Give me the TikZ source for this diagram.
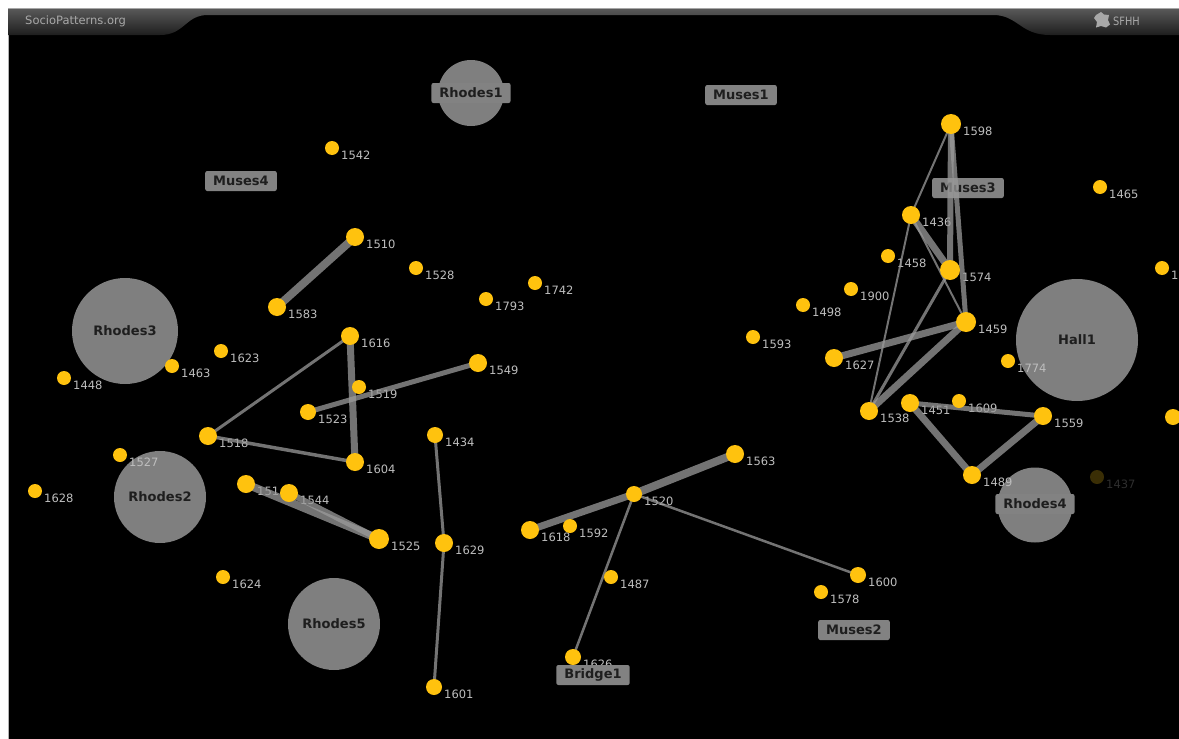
\documentclass[tikz,border=0pt]{standalone}
\usepackage{fontspec}
\setmainfont{DejaVu Sans}
\definecolor{dotc}{HTML}{FFC20E}
\definecolor{dimdot}{HTML}{3A2E05}
\definecolor{dimtxt}{HTML}{2E2E2E}
\definecolor{locc}{HTML}{7F7F7F}
\definecolor{boxc}{HTML}{828282}
\definecolor{loctxt}{HTML}{1E1E1E}
\definecolor{numc}{HTML}{BEBEBE}
\definecolor{edgec}{HTML}{9A9A9A}
\definecolor{hdtop}{HTML}{5A5A5A}
\definecolor{hdbot}{HTML}{1E1E1E}
\definecolor{hdtxt}{HTML}{A8A8A8}
\pgfdeclarelayer{circ}
\pgfdeclarelayer{lab}
\pgfdeclarelayer{box}
\pgfdeclarelayer{edge}
\pgfsetlayers{circ,lab,box,edge,main}
\begin{document}
\begin{tikzpicture}[x=1pt,y=-1pt,
  dot/.style={circle,fill=dotc,draw=none,inner sep=0pt},
  num/.style={anchor=west,inner sep=0pt,text=numc,font=\fontsize{11.5}{12}\selectfont},
  loc/.style={circle,fill=locc,draw=none,inner sep=0pt,text=loctxt,font=\bfseries\fontsize{13}{14}\selectfont},
  tag/.style={rectangle,rounded corners=2pt,fill=boxc,draw=none,inner xsep=8pt,inner ysep=0pt,minimum height=20pt,text=loctxt,font=\bfseries\fontsize{13}{14}\selectfont},
  link/.style={draw=edgec,draw opacity=0.75,line cap=butt}]
\path[use as bounding box] (0,0) rectangle (1179,739);
\begin{pgfonlayer}{circ}
\fill[white] (0,0) rectangle (1179,739);
\fill[black] (8,8) rectangle (1179,739);
\draw[gray!60,line width=0.8pt] (8,8) -- (8,739);
\shade[top color=hdtop,bottom color=hdbot]
  (8,8) -- (1179,8) -- (1179,35) -- (1050,35)
  .. controls (1020,35) and (1018,15) .. (993,15) -- (208,15)
  .. controls (185,15) and (185,35) .. (160,35) -- (8,35) -- cycle;
\draw[gray!70,line width=0.8pt] (8,8.4) -- (1179,8.4);
\node[anchor=west,inner sep=0pt,text=hdtxt,font=\fontsize{11.5}{13}\selectfont] (brand) at (25,21) {SocioPatterns.org};
\node[anchor=west,inner sep=0pt,text=hdtxt,font=\fontsize{11.5}{13}\selectfont,xscale=0.85] (conf) at (1113,21) {SFHH};
\fill[hdtxt] (1096,15) -- (1101,12) -- (1104,14.5) -- (1109,15) -- (1108,20) -- (1110,24.5)
  -- (1106,27.5) -- (1101,26) -- (1096,27.5) -- (1097,22) -- (1094,18) -- cycle;
% location circles
\node[loc,minimum size=66pt] (Rhodes1c) at (471,93) {};
\node[loc,minimum size=106pt] (Rhodes3) at (125,331) {Rhodes3};
\node[loc,minimum size=92pt] (Rhodes2) at (160,497) {Rhodes2};
\node[loc,minimum size=92pt] (Rhodes5) at (334,624) {Rhodes5};
\node[loc,minimum size=122pt] (Hall1) at (1077,340) {Hall1};
\node[loc,minimum size=75pt] (Rhodes4c) at (1035,505) {};
\end{pgfonlayer}
\begin{pgfonlayer}{box}
\node[tag] (Rhodes1) at (471,93) {Rhodes1};
\node[tag] (Rhodes4) at (1035,504) {Rhodes4};
\node[tag] (Muses1) at (741,95) {Muses1};
\node[tag] (Muses4) at (241,181) {Muses4};
\node[tag] (Muses3) at (968,188) {Muses3};
\node[tag] (Muses2) at (854,630) {Muses2};
\node[tag] (Bridge1) at (593,675) {Bridge1};
\end{pgfonlayer}
% people
\foreach \n/\x/\y/\r in {
  1542/332/148/7, 1510/355/237/9, 1583/277/307/9, 1528/416/268/7, 1742/535/283/7,
  1793/486/299/7, 1616/350/336/9, 1549/478/363/9, 1519/359/387/7, 1523/308/412/8,
  1518/208/436/9, 1604/355/462/9, 1434/435/435/8, 1623/221/351/7, 1463/172/366/7,
  1448/64/378/7, 1527/120/455/7, 1628/35/491/7, 151/246/484/9, 1544/289/493/9,
  1525/379/539/10, 1629/444/543/9, 1624/223/577/7, 1601/434/687/8, 1618/530/530/9,
  1592/570/526/7, 1520/634/494/8, 1487/611/577/7, 1626/573/657/8, 1563/735/454/9,
  1600/858/575/8, 1578/821/592/7, 1598/951/124/10, 1436/911/215/9, 1458/888/256/7,
  1574/950/270/10, 1900/851/289/7, 1498/803/305/7, 1593/753/337/7, 1459/966/322/10,
  1627/834/358/9, 1774/1008/361/7, 1538/869/411/9, 1451/910/403/9, 1609/959/401/7,
  1559/1043/416/9, 1489/972/475/9, 1465/1100/187/7, 1/1162/268/7}
{
  \node[dot,minimum size={2*\r pt}] (n\n) at (\x,\y) {};
  \begin{pgfonlayer}{lab}
  \node[num] (t\n) at (\x+\r+2,\y+7) {\n};
  \end{pgfonlayer}
}
\node[dot,minimum size=16pt] (nR) at (1173,417) {};
\node[circle,fill=dimdot,inner sep=0pt,minimum size=14pt] (n1437) at (1097,477) {};
\begin{pgfonlayer}{lab}
\node[num,text=dimtxt] (t1437) at (1106,484) {1437};
\end{pgfonlayer}
% contacts
\begin{pgfonlayer}{edge}
\foreach \a/\b/\w in {
  1510/1583/8, 1616/1604/7, 1616/1518/3, 1518/1604/3.5, 1523/1549/5,
  151/1525/8, 1544/1525/6, 1434/1629/3, 1629/1601/3,
  1618/1520/7, 1520/1563/8, 1520/1626/2.5, 1520/1600/2.5,
  1598/1574/6, 1598/1459/5, 1598/1436/2, 1436/1574/7, 1436/1459/2,
  1436/1538/2, 1574/1538/3, 1459/1627/7, 1459/1538/7,
  1451/1559/5, 1451/1489/7, 1489/1559/7}
{
  \draw[link,line width=\w pt] (n\a.center) -- (n\b.center);
}
\end{pgfonlayer}
\end{tikzpicture}
\end{document}
